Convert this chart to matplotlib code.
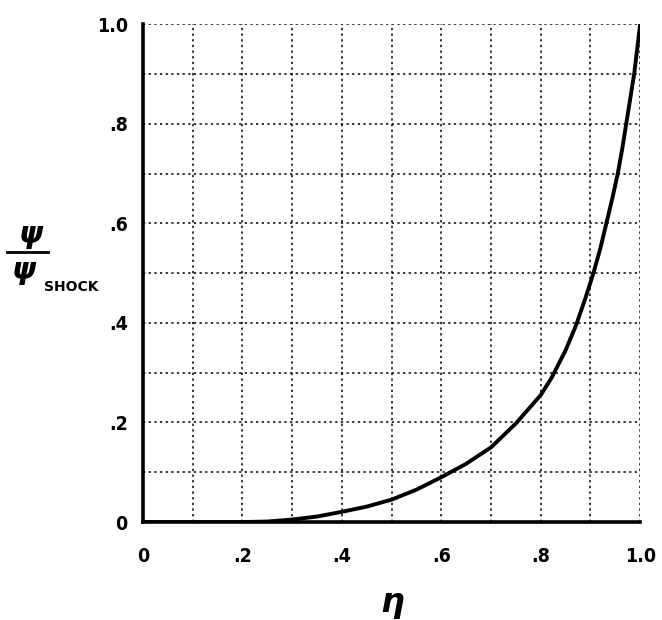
import numpy as np
import matplotlib
matplotlib.use("Agg")
import matplotlib.pyplot as plt

# values
eta = [0.0, 0.1, 0.2, 0.25, 0.3, 0.35, 0.4, 0.45, 0.5, 0.55, 0.6, 0.65,
       0.7, 0.75, 0.8, 0.822, 0.85, 0.871, 0.89, 0.906, 0.92, 0.932, 0.944,
       0.955, 0.964, 0.972, 0.98, 0.988, 0.994, 1.0]
psi_ratio = [0.0, 0.0, 0.0, 0.001, 0.005, 0.011, 0.0205, 0.031, 0.045,
             0.065, 0.09, 0.117, 0.15, 0.198, 0.255, 0.29, 0.345, 0.395,
             0.45, 0.5, 0.55, 0.6, 0.65, 0.7, 0.75, 0.8, 0.85, 0.9, 0.95,
             1.0]

tick_vals = [0, 0.2, 0.4, 0.6, 0.8, 1.0]
tick_labels = ["0", ".2", ".4", ".6", ".8", "1.0"]

fig = plt.figure(figsize=(6.62, 6.2), dpi=100)
ax = fig.add_axes([0.216, 0.158, 0.751, 0.803])

ax.plot(eta, psi_ratio, color="black", lw=2.8, solid_capstyle="round",
        solid_joinstyle="round")

ax.set_xlim(0, 1)
ax.set_ylim(0, 1)
ax.set_xticks(tick_vals)
ax.set_xticklabels(tick_labels)
ax.set_yticks(tick_vals)
ax.set_yticklabels(tick_labels)
ax.set_xticks(np.arange(0.1, 1.0, 0.2), minor=True)
ax.set_yticks(np.arange(0.1, 1.0, 0.2), minor=True)
ax.grid(which="both", color="black", ls=(0, (1.5, 2.2)), lw=1.1)
ax.tick_params(which="both", length=0)
ax.tick_params(axis="x", pad=18, labelsize=14)
ax.tick_params(axis="y", pad=11, labelsize=14)
for lab in ax.get_xticklabels() + ax.get_yticklabels():
    lab.set_fontweight("bold")
    lab.set_fontstretch("condensed")

for s in ("top", "right"):
    ax.spines[s].set_visible(False)
for s in ("left", "bottom"):
    ax.spines[s].set_linewidth(2.6)
    ax.spines[s].set_zorder(3)

# y label drawn as a fraction psi / psi_SHOCK
fig.text(0.046, 0.621, "ψ", fontsize=22, fontstyle="italic",
         fontweight="bold", ha="center", va="center")
fig.add_artist(plt.Line2D([0.011, 0.073], [0.594, 0.594], color="black",
                          lw=2, transform=fig.transFigure))
fig.text(0.036, 0.564, "ψ", fontsize=22, fontstyle="italic",
         fontweight="bold", ha="center", va="center")
fig.text(0.107, 0.537, "SHOCK", fontsize=10, fontweight="bold",
         ha="center", va="center")

fig.text(0.592, 0.028, "η", fontsize=24, fontstyle="italic",
         fontweight="bold", ha="center", va="center")

fig.savefig("out.png", dpi=100)
